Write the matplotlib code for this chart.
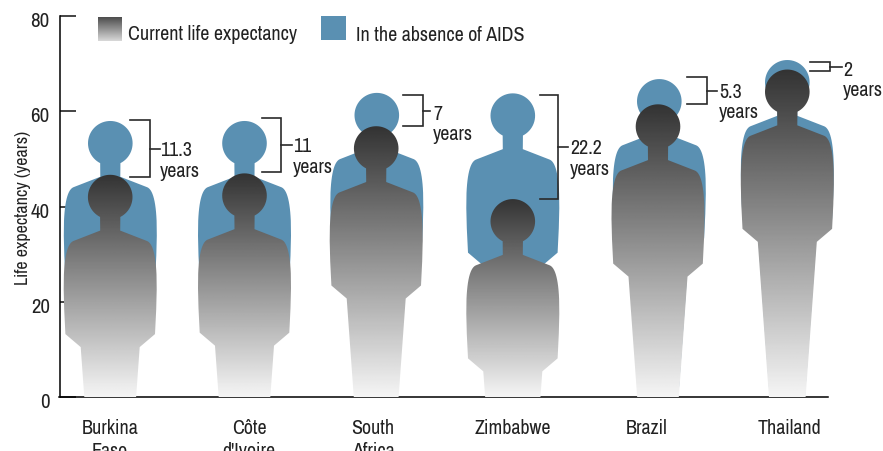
import numpy as np
import matplotlib
matplotlib.use("Agg")
import matplotlib.pyplot as plt
from matplotlib.patches import Polygon
from matplotlib.transforms import ScaledTranslation

plt.rcParams['font.family'] = ['Archivo Narrow', 'Roboto Condensed', 'Liberation Sans', 'DejaVu Sans']

countries = ['Burkina\nFaso', "Côte\nd'Ivoire", 'South\nAfrica', 'Zimbabwe', 'Brazil', 'Thailand']
current = [46.7, 47.0, 56.9, 41.6, 61.5, 68.8]
gain = [11.3, 11.0, 7.0, 22.2, 5.3, 2.0]
gain_labels = ['11.3', '11', '7', '22.2', '5.3', '2']

# layout, in pixels of the 883x452 picture
W, H = 883, 452
left, right, top, bottom = 59.5, 828, 17, 398
px_per_year = (bottom - top) / 80
grey_x = [110.2, 244.5, 376.2, 512.8, 658, 787.3]
blue_x = [110.3, 244.5, 376.8, 512.8, 659.3, 787.3]
label_x = [110, 249, 373, 513, 647, 789]
bracket_x = [(130, 150), (262, 281), (403, 423), (540, 558), (687, 707), (810, 830)]
bracket_y = [(121, 178), (119, 173), (96, 127), (96, 199.5), (78, 105), (63, 72)]
tick_end = [160, 292, 430, 568, 717, 842]
note_x = [160, 293, 433, 570, 719, 843]
note_y = [151, 147, 114, 149, 92, 70]
blue = '#5a90b2'


def person(cx, value):
    """outline of one figure, head top at value, feet on the axis"""
    height = value * px_per_year
    a = np.radians(np.linspace(0, 153, 30))
    side = [(22.3 * np.sin(t), 22.5 - 22.3 * np.cos(t)) for t in a]
    side += [(10, 56), (37, 66.5)]
    # shoulder curve
    for t in np.linspace(0, 1, 14)[1:]:
        p = (1 - t)**2 * np.array([37, 66.5]) + 2 * t * (1 - t) * np.array([45, 70]) + t**2 * np.array([46.3, 100])
        side.append(tuple(p))
    side += [(46.5, 115), (46, 135), (44.8, 159.5), (29.5, 172.5)]
    leg = max(height - 172.5, 0)
    side.append((29.5 - 0.072 * leg, height))
    side = np.array(side)
    xs = np.concatenate([cx + side[:, 0], (cx - side[:, 0])[::-1]])
    ys = np.concatenate([value - side[:, 1] / px_per_year, (value - side[:, 1] / px_per_year)[::-1]])
    return np.column_stack([xs, ys])


def grey_fill(ax, extent, clip=None, lo=0.2, hi=0.96):
    ramp = np.linspace(lo, hi, 256).reshape(-1, 1)
    im = ax.imshow(ramp, cmap='gray', vmin=0, vmax=1, extent=extent, aspect='auto', zorder=3, origin='upper')
    if clip is not None:
        im.set_clip_path(clip)
        im.set_clip_box(fig.bbox)
    return im


def to_year(y):
    return (bottom - y) / px_per_year


fig = plt.figure(figsize=(W / 100, H / 100), dpi=100)
ax = fig.add_axes([left / W, 1 - bottom / H, (right - left) / W, (bottom - top) / H])

for i in range(len(countries)):
    total = current[i] + gain[i]
    ax.add_patch(Polygon(person(blue_x[i], total), closed=True, fc=blue, ec='none', zorder=2, clip_on=False))
    shape = Polygon(person(grey_x[i], current[i]), closed=True, fc='none', ec='none', zorder=3, clip_on=False)
    ax.add_patch(shape)
    grey_fill(ax, [grey_x[i] - 50, grey_x[i] + 50, 0, current[i]], shape)

    # bracket and note
    x0, x1 = bracket_x[i]
    y0, y1 = to_year(bracket_y[i][0]), to_year(bracket_y[i][1])
    ax.plot([x0, x1, x1, x0], [y0, y0, y1, y1], color='#2a2a2a', lw=1.2, clip_on=False, zorder=4,
            solid_joinstyle='miter')
    ym = (y0 + y1) / 2
    ax.plot([x1, tick_end[i]], [ym, ym], color='#2a2a2a', lw=1.2, clip_on=False, zorder=4)
    ax.text(note_x[i], to_year(note_y[i]), gain_labels[i], fontsize=14.4, color='#222222', va='center', ha='left')
    ax.text(note_x[i] - 0.5, to_year(note_y[i] + 20.5), 'years', fontsize=14.4, color='#222222', va='center', ha='left')

    ax.text(label_x[i], to_year(419.5), countries[i], fontsize=14.4, color='#222222', ha='center', va='top',
            linespacing=1.22, clip_on=False)

# legend
grey_fill(ax, [98, 122, to_year(42), to_year(18)], lo=0.3, hi=0.85)
ax.text(128, to_year(34), 'Current life expectancy', fontsize=14.4, color='#222222', va='center')
ax.fill_between([321, 346], to_year(41), to_year(17), color=blue, lw=0, zorder=3)
ax.text(356, to_year(35), 'In the absence of AIDS', fontsize=14.4, color='#222222', va='center')

ax.set_xlim(left, right)
ax.set_ylim(0, 80)
ax.set_xticks([])
ax.set_yticks([0, 20, 40, 60, 80])
ax.tick_params(axis='y', direction='in', length=11.5, width=1.1, color='#111111', labelsize=15,
               labelcolor='#222222', pad=7)
# the numbers sit a little below their ticks
for lab in ax.get_yticklabels():
    lab.set_transform(lab.get_transform() + ScaledTranslation(0, -2.5 / 100, fig.dpi_scale_trans))
ax.set_ylabel('Life expectancy (years)', fontsize=13, color='#222222', labelpad=0)
ax.spines['top'].set_visible(False)
ax.spines['right'].set_visible(False)
ax.spines['left'].set_linewidth(1.1)
ax.spines['bottom'].set_linewidth(1.1)
ax.patch.set_alpha(0)

fig.savefig('out.png', dpi=100)
